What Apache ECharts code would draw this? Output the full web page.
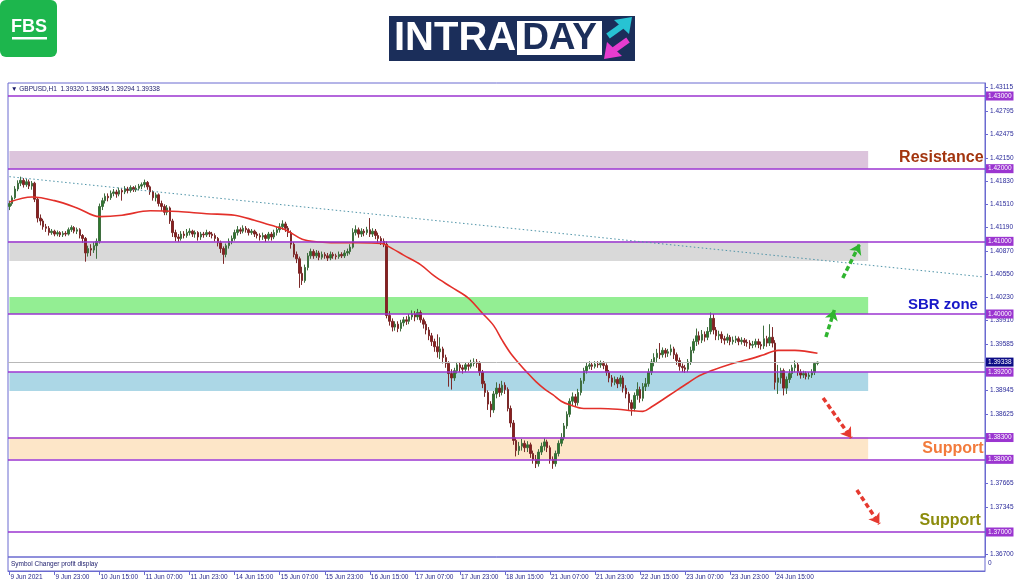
<!DOCTYPE html>
<html><head><meta charset="utf-8">
<script src="https://cdn.jsdelivr.net/npm/echarts@6/dist/echarts.min.js"></script>
<style>html,body{margin:0;padding:0;background:#fff}#c{width:1024px;height:587px}</style>
</head><body><div id="c"></div>
<script>
// ---------- DATA ----------
const symbolInfo = '\u25BC GBPUSD,H1  1.39320 1.39345 1.39294 1.39338';
const subWindowTitle = 'Symbol Changer profit display';
const tickLabels = ['9 Jun 2021','9 Jun 23:00','10 Jun 15:00','11 Jun 07:00','11 Jun 23:00','14 Jun 15:00','15 Jun 07:00','15 Jun 23:00','16 Jun 15:00','17 Jun 07:00','17 Jun 23:00','18 Jun 15:00','21 Jun 07:00','21 Jun 23:00','22 Jun 15:00','23 Jun 07:00','23 Jun 23:00','24 Jun 15:00'];
const barsPerLabel = 16;
const slotCount = 347; // hourly slots incl. right-side shift
// H1 candles: [open, close, low, high]
const candles = [
[1.4148,1.4152,1.4143,1.4156],[1.4152,1.4160,1.4149,1.4163],[1.4160,1.4172,1.4158,1.4176],[1.4172,1.4180,1.4169,1.4184],[1.4180,1.4184,1.4176,1.4189],
[1.4184,1.4178,1.4174,1.4187],[1.4178,1.4182,1.4175,1.4186],[1.4182,1.4176,1.4172,1.4185],[1.4176,1.4180,1.4171,1.4183],[1.4180,1.4158,1.4154,1.4182],
[1.4158,1.4132,1.4126,1.4161],[1.4132,1.4128,1.4122,1.4137],[1.4128,1.4120,1.4116,1.4131],[1.4120,1.4118,1.4113,1.4124],[1.4118,1.4112,1.4108,1.4121],
[1.4112,1.4114,1.4109,1.4117],[1.4114,1.4110,1.4107,1.4116],[1.4110,1.4112,1.4107,1.4115],[1.4112,1.4109,1.4106,1.4114],[1.4109,1.4111,1.4106,1.4114],
[1.4111,1.4110,1.4107,1.4114],[1.4110,1.4116,1.4108,1.4119],[1.4116,1.4119,1.4113,1.4122],[1.4119,1.4114,1.4111,1.4121],[1.4114,1.4116,1.4110,1.4119],
[1.4116,1.4108,1.4104,1.4118],[1.4108,1.4104,1.4098,1.4110],[1.4104,1.4084,1.4072,1.4106],[1.4084,1.4090,1.4079,1.4094],[1.4090,1.4088,1.4080,1.4096],
[1.4088,1.4094,1.4084,1.4099],[1.4094,1.4100,1.4076,1.4104],[1.4100,1.4148,1.4097,1.4152],[1.4148,1.4156,1.4143,1.4160],[1.4156,1.4162,1.4152,1.4166],
[1.4162,1.4160,1.4155,1.4166],[1.4160,1.4166,1.4157,1.4170],[1.4166,1.4168,1.4162,1.4172],[1.4168,1.4165,1.4160,1.4171],[1.4165,1.4170,1.4162,1.4174],
[1.4170,1.4168,1.4156,1.4173],[1.4168,1.4172,1.4165,1.4176],[1.4172,1.4170,1.4166,1.4175],[1.4170,1.4174,1.4167,1.4177],[1.4174,1.4171,1.4168,1.4176],
[1.4171,1.4173,1.4168,1.4177],[1.4173,1.4176,1.4170,1.4179],[1.4176,1.4178,1.4172,1.4181],[1.4178,1.4181,1.4174,1.4185],[1.4181,1.4175,1.4171,1.4183],
[1.4175,1.4168,1.4164,1.4177],[1.4168,1.4160,1.4156,1.4170],[1.4160,1.4164,1.4155,1.4167],[1.4164,1.4152,1.4148,1.4166],[1.4152,1.4148,1.4142,1.4156],
[1.4148,1.4140,1.4136,1.4151],[1.4140,1.4146,1.4136,1.4150],[1.4146,1.4128,1.4124,1.4148],[1.4128,1.4112,1.4106,1.4131],[1.4112,1.4106,1.4100,1.4116],
[1.4106,1.4104,1.4099,1.4110],[1.4104,1.4110,1.4101,1.4114],[1.4110,1.4108,1.4104,1.4114],[1.4108,1.4112,1.4105,1.4117],[1.4112,1.4114,1.4108,1.4118],
[1.4114,1.4110,1.4106,1.4116],[1.4110,1.4112,1.4105,1.4115],[1.4112,1.4106,1.4101,1.4114],[1.4106,1.4110,1.4102,1.4113],[1.4110,1.4109,1.4105,1.4113],
[1.4109,1.4112,1.4106,1.4116],[1.4112,1.4110,1.4106,1.4114],[1.4110,1.4108,1.4104,1.4113],[1.4108,1.4104,1.4100,1.4111],[1.4104,1.4098,1.4093,1.4106],
[1.4098,1.4090,1.4084,1.4101],[1.4090,1.4082,1.4069,1.4093],[1.4082,1.4094,1.4078,1.4097],[1.4094,1.4100,1.4090,1.4104],[1.4100,1.4104,1.4096,1.4108],
[1.4104,1.4112,1.4101,1.4116],[1.4112,1.4116,1.4108,1.4121],[1.4116,1.4114,1.4110,1.4119],[1.4114,1.4118,1.4111,1.4122],[1.4118,1.4116,1.4112,1.4121],
[1.4116,1.4112,1.4108,1.4118],[1.4112,1.4114,1.4109,1.4117],[1.4114,1.4110,1.4106,1.4116],[1.4110,1.4108,1.4104,1.4113],[1.4108,1.4106,1.4101,1.4111],
[1.4106,1.4108,1.4102,1.4112],[1.4108,1.4104,1.4099,1.4110],[1.4104,1.4110,1.4101,1.4113],[1.4110,1.4106,1.4101,1.4113],[1.4106,1.4112,1.4103,1.4116],
[1.4112,1.4116,1.4108,1.4120],[1.4116,1.4120,1.4112,1.4125],[1.4120,1.4124,1.4116,1.4129],[1.4124,1.4118,1.4113,1.4127],[1.4118,1.4112,1.4106,1.4121],
[1.4112,1.4096,1.4090,1.4115],[1.4096,1.4082,1.4078,1.4099],[1.4082,1.4076,1.4070,1.4086],[1.4076,1.4056,1.4036,1.4079],[1.4056,1.4046,1.4040,1.4065],
[1.4046,1.4064,1.4043,1.4068],[1.4064,1.4080,1.4060,1.4084],[1.4080,1.4086,1.4076,1.4090],[1.4086,1.4080,1.4076,1.4089],[1.4080,1.4084,1.4077,1.4088],
[1.4084,1.4078,1.4074,1.4087],[1.4078,1.4082,1.4075,1.4086],[1.4082,1.4080,1.4076,1.4085],[1.4080,1.4077,1.4073,1.4084],[1.4077,1.4082,1.4074,1.4086],
[1.4082,1.4080,1.4076,1.4085],[1.4080,1.4079,1.4075,1.4083],[1.4079,1.4082,1.4076,1.4086],[1.4082,1.4080,1.4077,1.4085],[1.4080,1.4084,1.4077,1.4088],
[1.4084,1.4086,1.4080,1.4090],[1.4086,1.4092,1.4082,1.4096],[1.4092,1.4112,1.4090,1.4118],[1.4112,1.4116,1.4108,1.4122],[1.4116,1.4110,1.4105,1.4119],
[1.4110,1.4114,1.4106,1.4118],[1.4114,1.4112,1.4107,1.4117],[1.4112,1.4116,1.4109,1.4120],[1.4116,1.4110,1.4106,1.4132],[1.4110,1.4114,1.4106,1.4118],
[1.4114,1.4108,1.4103,1.4117],[1.4108,1.4104,1.4098,1.4112],[1.4104,1.4100,1.4095,1.4107],[1.4100,1.4096,1.4092,1.4104],[1.4096,1.3998,1.3994,1.4100],
[1.3998,1.3990,1.3984,1.4004],[1.3990,1.3982,1.3976,1.3994],[1.3982,1.3986,1.3977,1.3990],[1.3986,1.3980,1.3975,1.3990],[1.3980,1.3988,1.3976,1.3992],
[1.3988,1.3992,1.3983,1.3996],[1.3992,1.3990,1.3985,1.3997],[1.3990,1.3996,1.3986,1.4000],[1.3996,1.4000,1.3992,1.4005],[1.4000,1.3996,1.3990,1.4004],
[1.3996,1.4002,1.3992,1.4007],[1.4002,1.3992,1.3988,1.4005],[1.3992,1.3986,1.3980,1.3995],[1.3986,1.3978,1.3972,1.3990],[1.3978,1.3970,1.3964,1.3982],
[1.3970,1.3962,1.3956,1.3974],[1.3962,1.3955,1.3948,1.3966],[1.3955,1.3948,1.3940,1.3972],[1.3948,1.3952,1.3938,1.3968],[1.3952,1.3940,1.3932,1.3955],
[1.3940,1.3932,1.3926,1.3944],[1.3932,1.3918,1.3900,1.3935],[1.3918,1.3912,1.3896,1.3924],[1.3912,1.3922,1.3908,1.3926],[1.3922,1.3930,1.3918,1.3934],
[1.3930,1.3926,1.3920,1.3934],[1.3926,1.3924,1.3918,1.3930],[1.3924,1.3930,1.3920,1.3933],[1.3930,1.3928,1.3922,1.3934],[1.3928,1.3932,1.3925,1.3937],
[1.3932,1.3934,1.3928,1.3939],[1.3934,1.3932,1.3926,1.3938],[1.3932,1.3920,1.3915,1.3935],[1.3920,1.3904,1.3898,1.3923],[1.3904,1.3892,1.3886,1.3908],
[1.3892,1.3876,1.3868,1.3895],[1.3876,1.3868,1.3858,1.3880],[1.3868,1.3890,1.3864,1.3894],[1.3890,1.3898,1.3884,1.3906],[1.3898,1.3892,1.3886,1.3904],
[1.3892,1.3902,1.3888,1.3908],[1.3902,1.3896,1.3890,1.3906],[1.3896,1.3870,1.3866,1.3899],[1.3870,1.3850,1.3844,1.3874],[1.3850,1.3826,1.3820,1.3854],
[1.3826,1.3812,1.3804,1.3830],[1.3812,1.3818,1.3806,1.3824],[1.3818,1.3822,1.3812,1.3828],[1.3822,1.3816,1.3810,1.3826],[1.3816,1.3820,1.3810,1.3825],
[1.3820,1.3808,1.3802,1.3823],[1.3808,1.3800,1.3794,1.3812],[1.3800,1.3794,1.3788,1.3806],[1.3794,1.3810,1.3790,1.3814],[1.3810,1.3818,1.3806,1.3823],
[1.3818,1.3824,1.3812,1.3829],[1.3824,1.3816,1.3810,1.3827],[1.3816,1.3800,1.3794,1.3819],[1.3800,1.3794,1.3787,1.3804],[1.3794,1.3808,1.3790,1.3812],
[1.3808,1.3822,1.3804,1.3826],[1.3822,1.3830,1.3818,1.3836],[1.3830,1.3846,1.3826,1.3850],[1.3846,1.3862,1.3842,1.3866],[1.3862,1.3880,1.3858,1.3884],
[1.3880,1.3886,1.3874,1.3892],[1.3886,1.3878,1.3872,1.3890],[1.3878,1.3892,1.3874,1.3897],[1.3892,1.3908,1.3888,1.3912],[1.3908,1.3922,1.3904,1.3926],
[1.3922,1.3928,1.3918,1.3933],[1.3928,1.3930,1.3924,1.3935],[1.3930,1.3928,1.3923,1.3934],[1.3928,1.3931,1.3925,1.3935],[1.3931,1.3930,1.3926,1.3935],
[1.3930,1.3932,1.3926,1.3936],[1.3932,1.3929,1.3924,1.3935],[1.3929,1.3920,1.3915,1.3932],[1.3920,1.3912,1.3906,1.3923],[1.3912,1.3906,1.3900,1.3916],
[1.3906,1.3910,1.3902,1.3914],[1.3910,1.3904,1.3898,1.3913],[1.3904,1.3912,1.3900,1.3916],[1.3912,1.3898,1.3892,1.3915],[1.3898,1.3890,1.3884,1.3902],
[1.3890,1.3878,1.3868,1.3893],[1.3878,1.3870,1.3860,1.3882],[1.3870,1.3888,1.3866,1.3892],[1.3888,1.3896,1.3882,1.3906],[1.3896,1.3884,1.3878,1.3900],
[1.3884,1.3900,1.3880,1.3905],[1.3900,1.3904,1.3894,1.3912],[1.3904,1.3920,1.3900,1.3925],[1.3920,1.3934,1.3916,1.3938],[1.3934,1.3940,1.3928,1.3946],
[1.3940,1.3946,1.3934,1.3952],[1.3946,1.3944,1.3938,1.3960],[1.3944,1.3950,1.3940,1.3954],[1.3950,1.3946,1.3940,1.3953],[1.3946,1.3948,1.3941,1.3952],
[1.3948,1.3952,1.3943,1.3958],[1.3952,1.3944,1.3938,1.3955],[1.3944,1.3936,1.3930,1.3947],[1.3936,1.3928,1.3922,1.3940],[1.3928,1.3926,1.3920,1.3932],
[1.3926,1.3924,1.3919,1.3930],[1.3924,1.3934,1.3920,1.3938],[1.3934,1.3950,1.3930,1.3955],[1.3950,1.3962,1.3946,1.3966],[1.3962,1.3970,1.3956,1.3980],
[1.3970,1.3964,1.3958,1.3976],[1.3964,1.3972,1.3960,1.3978],[1.3972,1.3968,1.3962,1.3976],[1.3968,1.3976,1.3964,1.3982],[1.3976,1.3994,1.3972,1.4002],
[1.3994,1.3978,1.3972,1.4000],[1.3978,1.3970,1.3964,1.3982],[1.3970,1.3972,1.3964,1.3977],[1.3972,1.3966,1.3960,1.3976],[1.3966,1.3964,1.3958,1.3970],
[1.3964,1.3968,1.3960,1.3973],[1.3968,1.3962,1.3957,1.3971],[1.3962,1.3964,1.3958,1.3969],[1.3964,1.3966,1.3960,1.3970],[1.3966,1.3962,1.3957,1.3969],
[1.3962,1.3964,1.3958,1.3968],[1.3964,1.3961,1.3956,1.3967],[1.3961,1.3960,1.3955,1.3965],[1.3960,1.3957,1.3952,1.3964],[1.3957,1.3958,1.3953,1.3963],
[1.3958,1.3962,1.3954,1.3966],[1.3962,1.3958,1.3953,1.3966],[1.3958,1.3956,1.3951,1.3962],[1.3956,1.3966,1.3952,1.3984],[1.3966,1.3960,1.3955,1.3970],
[1.3960,1.3968,1.3956,1.3986],[1.3968,1.3960,1.3954,1.3982],[1.3960,1.3906,1.3896,1.3964],[1.3906,1.3912,1.3890,1.3930],[1.3912,1.3922,1.3904,1.3926],
[1.3922,1.3898,1.3888,1.3925],[1.3898,1.3910,1.3890,1.3914],[1.3910,1.3918,1.3905,1.3924],[1.3918,1.3926,1.3912,1.3930],[1.3926,1.3930,1.3920,1.3936],
[1.3930,1.3920,1.3915,1.3934],[1.3920,1.3916,1.3911,1.3924],[1.3916,1.3918,1.3912,1.3922],[1.3918,1.3914,1.3910,1.3921],[1.3914,1.3916,1.3910,1.3920],
[1.3916,1.3920,1.3912,1.3924],[1.3920,1.3932,1.3916,1.3934],[1.3932,1.39338,1.39294,1.39345]
];
// red moving average, read at sample bars: [barIndex, value]
const maPoints = [[0,1.4154],[8,1.4161],[16,1.4156],[24,1.4146],[32,1.4134],[40,1.4136],[50,1.4142],[60,1.4141],[70,1.4138],[80,1.4136],[87,1.4129],[93,1.4122],[98,1.4116],[104,1.4103],[110,1.4099],[116,1.4098],[124,1.4098],[132,1.4097],[136,1.4090],[140,1.4081],[146,1.4068],[151,1.4052],[157,1.4037],[163,1.4022],[168,1.4001],[172,1.3984],[175,1.3964],[178,1.3946],[181,1.3932],[184,1.3919],[187,1.3907],[190,1.3897],[193,1.3889],[196,1.3880],[199,1.3875],[204,1.3870],[210,1.3870],[216,1.3869],[221,1.3867],[225,1.3866],[228,1.3872],[232,1.3882],[237,1.3895],[241,1.3905],[245,1.3915],[250,1.3923],[256,1.3931],[262,1.3937],[268,1.3944],[273,1.3950],[279,1.3950],[287,1.3946]];
const yMin = 1.36656, yMax = 1.43179;
const yTicks = [1.43115,1.42795,1.42475,1.42150,1.41830,1.41510,1.41190,1.40870,1.40550,1.40230,1.39910,1.39585,1.38945,1.38625,1.37665,1.37345,1.36700];
const levels = [1.43000,1.42000,1.41000,1.40000,1.39200,1.38300,1.38000,1.37000];
const currentPrice = 1.39338;
const zoneBounds = [[1.42000,1.42243],[1.40730,1.41000],[1.40000,1.40234],[1.38940,1.39200],[1.38000,1.38300]];
const zoneEndBar = 305;
const trendLine = [[0,1.41890],[346,1.40510]];
const upArrows = [[[290,1.39684],[293,1.40055]],[[296,1.40496],[302,1.40963]]];
const downArrows = [[[289,1.38844],[299,1.38294]],[[301,1.37578],[309,1.37110]]];
const notes = [['Resistance',346,1.42147],['SBR zone',344,1.40124],['Support',346,1.38142],['Support',345,1.37152]];

// ---------- STYLES ----------
const zoneColors = ['#dcc4dc','#d9d9d9','#93ee93','#acd7e6','#fde6c8'];
const noteColors = ['#a3350f','#1818c8','#f27b3c','#8c8c0c'];
const noteSizes = [16, 15, 16, 16];
const frameColor = '#6a6ad0';
const levelColor = '#9b35d0';
const font = 'Liberation Sans';

const categories = Array.from({length: slotCount}, (_, i) => String(i));
const levelLabel = (v, bg) => ({show: true, position: 'end', distance: 1, formatter: v.toFixed(5), color: '#ffffff',
  backgroundColor: bg, fontSize: 6.5, padding: [1,2,1,2], fontFamily: font});

const chart = echarts.init(document.getElementById('c'), null, {renderer: 'canvas'});

const option = {
  animation: false,
  backgroundColor: '#ffffff',
  textStyle: {fontFamily: font},
  grid: {left: 8, right: 39, top: 83, bottom: 30, show: true, borderColor: frameColor, borderWidth: 1, backgroundColor: 'transparent'},
  xAxis: {
    type: 'category', data: categories, boundaryGap: true, offset: 14,
    axisLine: {show: true, lineStyle: {color: frameColor, width: 1}},
    axisTick: {show: true, alignWithLabel: true, length: 4, lineStyle: {color: frameColor},
      interval: (i) => i % barsPerLabel === 0 && i / barsPerLabel < tickLabels.length},
    axisLabel: {show: true, align: 'left', margin: 3, fontSize: 6.5, color: '#2a2a8a', fontFamily: font, padding: [0,0,0,1],
      interval: (i) => i % barsPerLabel === 0 && i / barsPerLabel < tickLabels.length,
      formatter: (v, i) => tickLabels[i / barsPerLabel] || ''},
    splitLine: {show: false}
  },
  yAxis: {
    type: 'value', position: 'right', min: yMin, max: yMax, scale: true,
    axisLine: {show: true, lineStyle: {color: frameColor, width: 1}},
    axisTick: {show: true, length: 3, customValues: yTicks, lineStyle: {color: frameColor}},
    axisLabel: {show: true, customValues: yTicks, fontSize: 6.5, margin: 5, color: '#2a2a9a', fontFamily: font,
      formatter: v => Number(v).toFixed(5)},
    splitLine: {show: false}
  },
  series: [
    {
      name: 'zones', type: 'line', data: [], z: 1, silent: true,
      markArea: {silent: true,
        data: zoneBounds.map((b, k) => [
          {xAxis: 0, yAxis: b[0], itemStyle: {color: zoneColors[k]}},
          {xAxis: zoneEndBar, yAxis: b[1]}
        ])}
    },
    {
      name: 'current', type: 'line', data: [], z: 2, silent: true,
      markLine: {silent: true, symbol: 'none', precision: 5,
        data: [{yAxis: currentPrice, lineStyle: {color: '#b8b8b8', width: 1, type: 'solid'}, label: levelLabel(currentPrice, '#0c0c86')}]}
    },
    {
      name: 'levels', type: 'line', data: [], z: 2, silent: true,
      markLine: {silent: true, symbol: 'none', precision: 5,
        data: levels.map(v => ({yAxis: v, lineStyle: {color: levelColor, width: 1.6, type: 'solid'}, label: levelLabel(v, levelColor)}))}
    },
    {
      name: 'GBPUSD', type: 'candlestick', data: candles, z: 3, barWidth: 2,
      itemStyle: {color: '#2b7a2b', color0: '#8a1f1f', borderColor: '#3f6e3f', borderColor0: '#7c2a2a', borderWidth: 1}
    },
    {
      name: 'MA', type: 'line', data: maPoints, z: 4, smooth: 0.35, symbol: 'none', silent: true,
      lineStyle: {color: '#e3302a', width: 1.6}
    },
    {
      name: 'annotations', type: 'line', data: [], z: 5, silent: true,
      markLine: {silent: true, symbol: ['none','none'], animation: false, precision: 5,
        data: [
          [{coord: trendLine[0], lineStyle: {color: '#4f94a8', width: 1, type: [1.5,2.5]}}, {coord: trendLine[1]}]
        ].concat(upArrows.map(a => [{coord: a[0], symbol: 'none', lineStyle: {color: '#2fb52f', width: 3.5, type: [5,3]}, label: {show: false}}, {coord: a[1], symbol: 'arrow', symbolSize: 10}]))
         .concat(downArrows.map(a => [{coord: a[0], symbol: 'none', lineStyle: {color: '#e5392f', width: 3.5, type: [5,3]}, label: {show: false}}, {coord: a[1], symbol: 'arrow', symbolSize: 10}])),
        label: {show: false}
      },
      markPoint: {silent: true, symbol: 'circle', symbolSize: 0,
        data: notes.map((n, k) => ({coord: [n[1], n[2]], value: n[0],
          label: {show: true, position: 'left', distance: 0, formatter: n[0], color: noteColors[k], fontSize: noteSizes[k], fontWeight: 'bold', fontFamily: font}}))
      }
    }
  ],
  graphic: [
    // FBS logo
    {type: 'rect', shape: {x: 0, y: 0, width: 57, height: 57, r: 6}, style: {fill: '#1db64d'}},
    {type: 'text', style: {x: 29, y: 27, text: 'FBS', fill: '#ffffff', font: 'bold 18px "Liberation Sans"', align: 'center', verticalAlign: 'middle'}},
    {type: 'rect', shape: {x: 12, y: 37, width: 35, height: 2.5}, style: {fill: '#ffffff'}},
    // INTRADAY banner
    {type: 'rect', shape: {x: 389, y: 16, width: 246, height: 45}, style: {fill: '#1b2e5a'}},
    {type: 'text', style: {x: 394, y: 39, text: 'INTRA', fill: '#ffffff', font: 'bold 40px "Liberation Sans"', verticalAlign: 'middle'}},
    {type: 'rect', shape: {x: 517, y: 21, width: 85, height: 34}, style: {fill: '#ffffff'}},
    {type: 'text', style: {x: 559.5, y: 39, text: 'DAY', fill: '#1b2e5a', font: 'bold 37px "Liberation Sans"', align: 'center', verticalAlign: 'middle'}},
    {type: 'line', shape: {x1: 608, y1: 36, x2: 622, y2: 26}, style: {stroke: '#27c3d3', lineWidth: 6}},
    {type: 'polygon', shape: {points: [[632,17],[614,20],[629,34]]}, style: {fill: '#27c3d3'}},
    {type: 'line', shape: {x1: 628, y1: 40, x2: 614, y2: 50}, style: {stroke: '#e63ccf', lineWidth: 6}},
    {type: 'polygon', shape: {points: [[604,59],[607,42],[622,56]]}, style: {fill: '#e63ccf'}},
    // chart header and sub-window
    {type: 'text', style: {x: 11, y: 89, text: symbolInfo, fill: '#1a1a6a', font: '6.5px "Liberation Sans"', verticalAlign: 'middle'}},
    {type: 'rect', shape: {x: 8, y: 557, width: 977, height: 14}, style: {fill: 'none', stroke: frameColor, lineWidth: 1}},
    {type: 'text', style: {x: 11, y: 564, text: subWindowTitle, fill: '#1a1a6a', font: '6.5px "Liberation Sans"', verticalAlign: 'middle'}},
    {type: 'text', style: {x: 988, y: 563, text: '0', fill: '#2a2a9a', font: '6.5px "Liberation Sans"', verticalAlign: 'middle'}}
  ]
};
chart.setOption(option);
</script>
</body></html>
